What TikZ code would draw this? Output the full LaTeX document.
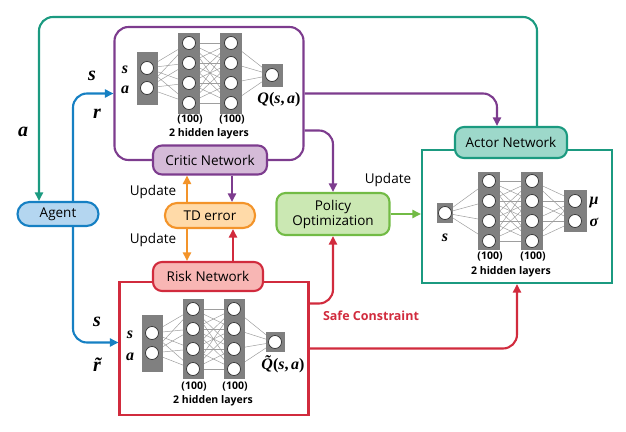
\documentclass[tikz,border=0pt]{standalone}
\usepackage{amsmath}
\usepackage[no-math]{fontspec}
\setmainfont{Open Sans}
\newfontfamily\symfont{Liberation Serif}
\usetikzlibrary{calc,positioning,backgrounds,arrows.meta}
\pgfdeclarelayer{background layer}
\pgfsetlayers{background layer,main}
\definecolor{purpline}{HTML}{7D3C8E}
\definecolor{purpfill}{HTML}{D5BBD8}
\definecolor{tealline}{HTML}{1B9A80}
\definecolor{tealfill}{HTML}{9DD8CA}
\definecolor{blueline}{HTML}{1680C3}
\definecolor{bluefill}{HTML}{B4D6F0}
\definecolor{orline}{HTML}{F3942A}
\definecolor{orfill}{HTML}{FFDAA8}
\definecolor{redline}{HTML}{D12B3D}
\definecolor{redfill}{HTML}{F8B6B4}
\definecolor{grnline}{HTML}{72BB45}
\definecolor{grnfill}{HTML}{CBE8B3}
% bold italic letters, upright brackets
\newcommand{\vi}[1]{{\itshape #1}}

% one layer of a net: name, x, y, neurons, width, height
\newcommand{\nnlayer}[6]{%
  \node[layerbox,minimum width=#5pt,minimum height=#6pt] (#1-box) at (#2,#3) {};
  \foreach \i in {1,...,#4}
    \node[neuron] (#1-\i) at (#2,{#3+(\i-(#4+1)/2)*20}) {};
}
% all links between two layers
\newcommand{\nnlinks}[4]{%
  \begin{pgfonlayer}{background layer}
    \foreach \i in {1,...,#2}
      \foreach \j in {1,...,#4}
        \draw[link] (#1-\i) -- (#3-\j);
  \end{pgfonlayer}
}

\begin{document}
\begin{tikzpicture}[x=1pt,y=-1pt,>={Triangle[length=8.5pt,width=8pt]},
  neuron/.style={circle,draw=black!80,fill=white,line width=0.7pt,minimum size=13pt,inner sep=0pt},
  layerbox/.style={rectangle,fill=black!50,inner sep=0pt},
  link/.style={black!38,line width=0.5pt},
  netbox/.style={rectangle,line width=2.1pt,minimum width=189pt,minimum height=133pt},
  tag/.style={rectangle,line width=2.1pt,rounded corners=9pt,align=center,inner sep=0pt,font=\fontsize{13.5}{15}\selectfont},
  pill/.style={tag,rounded corners=12pt},
  wire/.style={line width=2.1pt},
  txt/.style={font=\fontsize{13.5}{15}\selectfont},
  small/.style={font=\bfseries\fontsize{10.5}{12}\selectfont,inner sep=0pt},
  sym/.style={font=\symfont\bfseries\fontsize{16}{18}\selectfont,inner sep=0pt},
  bigsym/.style={font=\symfont\bfseries\itshape\fontsize{20}{22}\selectfont,inner sep=0pt}]
  \useasboundingbox (0,0) rectangle (626,431);

  % boxes round the nets
  \node[netbox,draw=purpline,rounded corners=14pt] (critbox) at (209,93.5) {};
  \node[netbox,draw=redline] (riskbox) at (214,348.5) {};
  \node[netbox,draw=tealline,minimum width=190pt] (actbox) at (517,216.5) {};

  % labels
  \node[tag,draw=purpline,fill=purpfill,minimum width=114pt,minimum height=29pt] (critic) at (210,160) {Critic Network};
  \node[tag,draw=redline,fill=redfill,minimum width=110pt,minimum height=29pt] (risk) at (208,276.5) {Risk Network};
  \node[tag,draw=tealline,fill=tealfill,minimum width=112pt,minimum height=31pt] (actor) at (511,142.5) {Actor Network};
  \node[pill,draw=orline,fill=orfill,minimum width=90pt,minimum height=25pt] (td) at (210,215.5) {TD error};
  \node[pill,draw=blueline,fill=bluefill,minimum width=81pt,minimum height=24pt] (agent) at (58,214) {Agent};
  \node[tag,draw=grnline,fill=grnfill,minimum width=113pt,minimum height=42pt] (policy) at (333,214) {Policy\\Optimization};

  % critic net
  \nnlayer{cin}{147}{78}{2}{21}{53}
  \nnlayer{ch1}{189}{73}{4}{22}{81}
  \nnlayer{ch2}{231}{73}{4}{22}{81}
  \nnlayer{cout}{272}{75}{1}{21}{23}
  \nnlinks{cin}{2}{ch1}{4}
  \nnlinks{ch1}{4}{ch2}{4}
  \nnlinks{ch2}{4}{cout}{1}
  \node[sym] (cs) at (125,70) {\vi{s}};
  \node[sym] (ca) at (125,90) {\vi{a}};
  \node[sym] (cq) at (279,100) {\vi{Q}(\vi{s},\,\vi{a})};
  \node[small] (cn1) at (190,120) {(100)};
  \node[small] (cn2) at (232,120) {(100)};
  \node[small] (chl) at (209,134) {2 hidden layers};

  % risk net
  \nnlayer{rin}{152}{343}{2}{21}{57}
  \nnlayer{rh1}{193}{339}{4}{21}{80}
  \nnlayer{rh2}{234}{339}{4}{21}{80}
  \nnlayer{rout}{275}{342}{1}{19}{20}
  \nnlinks{rin}{2}{rh1}{4}
  \nnlinks{rh1}{4}{rh2}{4}
  \nnlinks{rh2}{4}{rout}{1}
  \node[sym] (rs) at (130,335) {\vi{s}};
  \node[sym] (ra) at (130,357) {\vi{a}};
  \node[sym] (rq) at (283,364) {\vi{\~{Q}}(\vi{s},\,\vi{a})};
  \node[small] (rn1) at (194,387) {(100)};
  \node[small] (rn2) at (235,387) {(100)};
  \node[small] (rhl) at (213,401) {2 hidden layers};

  % actor net
  \nnlayer{ain}{445}{213}{1}{16}{20}
  \nnlayer{ah1}{489}{211}{4}{22}{78}
  \nnlayer{ah2}{532}{211}{4}{22}{78}
  \nnlayer{aout}{575}{211}{2}{23}{42}
  \nnlinks{ain}{1}{ah1}{4}
  \nnlinks{ah1}{4}{ah2}{4}
  \nnlinks{ah2}{4}{aout}{2}
  \node[sym] (as) at (445,238) {\vi{s}};
  \node[sym] (amu) at (594,203) {\vi{μ}};
  \node[sym] (asig) at (594,222) {\vi{σ}};
  \node[small] (an1) at (490,257) {(100)};
  \node[small] (an2) at (533,257) {(100)};
  \node[small] (ahl) at (511,272) {2 hidden layers};

  % connectors
  \coordinate (gtop) at (39,17);
  \draw[wire,tealline,rounded corners=14pt,->] ([xshift=26pt]actor.north) |- (gtop) -- ([xshift=-19pt]agent.north);
  \draw[wire,blueline,rounded corners=14pt,->] ([xshift=15pt]agent.north) |- (critbox.west);
  \draw[wire,blueline,rounded corners=14pt,->] ([xshift=15pt]agent.south) |- ([yshift=6pt]riskbox.west);
  \draw[wire,purpline,rounded corners=14pt,->] (critbox.east) -| ([xshift=-14pt]actor.north);
  \draw[wire,purpline,rounded corners=14pt,->] ([yshift=-37pt]critbox.east) -| (policy.north);
  \draw[wire,purpline,->] ([xshift=22pt]critic.south) -- ([xshift=22pt]td.north);
  \draw[wire,orline,->] ([xshift=-23pt]td.north) -- ([xshift=-23pt]critic.south);
  \draw[wire,orline,->] ([xshift=-23pt]td.south) -- ([xshift=-21pt]risk.north);
  \draw[wire,redline,->] ([xshift=25pt]risk.north) -- ([xshift=23pt]td.south);
  \draw[wire,redline,rounded corners=14pt,->] ([yshift=45pt]riskbox.east) -| (policy.south);
  \draw[wire,redline,rounded corners=14pt,->] (riskbox.east) -| (actbox.south);
  \draw[wire,grnline,->] (policy.east) -- (policy.east -| actbox.west);

  % texts on the connectors
  \node[bigsym] (la) at (23,132) {a};
  \node[bigsym] (ls1) at (92,76) {s};
  \node[bigsym] (lr1) at (97,114) {r};
  \node[bigsym] (ls2) at (97,322) {s};
  \node[bigsym] (lr2) at (97,365) {\~{r}};
  \node[txt] (up1) at (153,192) {Update};
  \node[txt] (up2) at (153,240) {Update};
  \node[txt] (up3) at (388,180) {Update};
  \node[txt,redline,font=\bfseries\fontsize{12.5}{14}\selectfont] (safe) at (371,316) {Safe Constraint};
\end{tikzpicture}
\end{document}
